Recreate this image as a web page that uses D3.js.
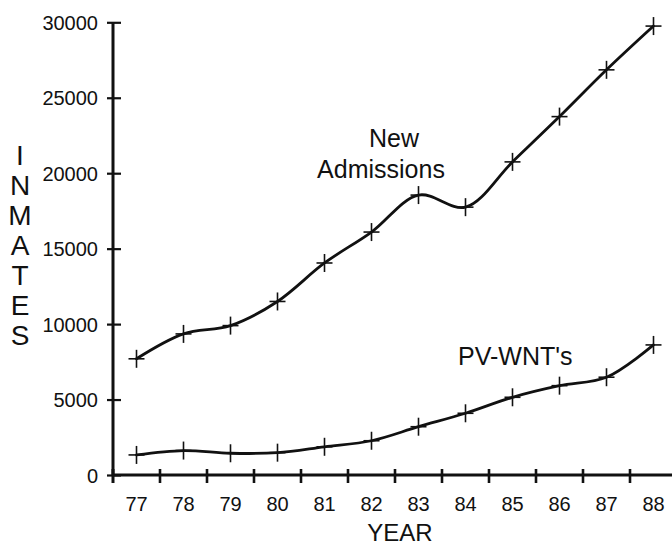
<!DOCTYPE html>
<html>
<head>
<meta charset="utf-8">
<script src="https://cdn.jsdelivr.net/npm/d3@7"></script>
<style>
  html, body { margin: 0; padding: 0; background: #fff; }
  svg { display: block; }
  text { font-family: "Liberation Sans", Arial, Helvetica, sans-serif; fill: #111; }
</style>
</head>
<body>
<svg id="chart" width="672" height="547"></svg>
<script>
const years = ["77","78","79","80","81","82","83","84","85","86","87","88"];
const newAdmissions = [7700, 9350, 9900, 11500, 14050, 16100, 18550, 17750, 20750, 23750, 26850, 29750];
const pvWnts = [1330, 1620, 1440, 1480, 1870, 2270, 3200, 4090, 5150, 5920, 6480, 8620];
const yTicks = [0, 5000, 10000, 15000, 20000, 25000, 30000];
const yTitle = ["I","N","M","A","T","E","S"];
const xTitle = "YEAR";
const labelNA = ["New", "Admissions"];
const labelPV = "PV-WNT's";

const svg = d3.select("#chart");
const x0 = 113, band = 47;
const x = d3.scaleBand().domain(years).range([x0, x0 + band * years.length]).paddingInner(0).paddingOuter(0);
const y = d3.scaleLinear().domain([0, 30000]).range([475, 22.3]);
const cx = d => x(d) + x.bandwidth() / 2;

const ink = "#111";

// Y axis
const yAxis = d3.axisLeft(y).tickValues(yTicks).tickSize(0).tickFormat(d3.format("d"));
const gy = svg.append("g").attr("transform", `translate(${x0},0)`).call(yAxis);
gy.select(".domain").remove();
gy.selectAll("text").attr("x", -15).attr("dy", "0.36em").style("font-size", "20px")
  .style("font-family", '"Liberation Sans", Arial, sans-serif').attr("fill", ink);
gy.selectAll(".tick").append("line").attr("x1", -6).attr("x2", 8).attr("stroke", ink).attr("stroke-width", 2.2);
svg.append("line").attr("x1", x0).attr("x2", x0).attr("y1", y(30000)).attr("y2", y(0) + 1)
  .attr("stroke", ink).attr("stroke-width", 3);

// X axis
svg.append("line").attr("x1", x0 - 1).attr("x2", 672).attr("y1", y(0)).attr("y2", y(0))
  .attr("stroke", ink).attr("stroke-width", 3);
const boundaries = years.slice(1);
svg.append("g").selectAll("line").data(boundaries).join("line")
  .attr("x1", d => x(d)).attr("x2", d => x(d))
  .attr("y1", y(0) - 6).attr("y2", y(0) + 8)
  .attr("stroke", ink).attr("stroke-width", 2.6);
svg.append("line").attr("x1", x0).attr("x2", x0).attr("y1", y(0) - 6).attr("y2", y(0) + 8)
  .attr("stroke", ink).attr("stroke-width", 3);
svg.append("g").selectAll("text").data(years).join("text")
  .attr("x", d => cx(d)).attr("y", 511).attr("text-anchor", "middle")
  .style("font-size", "20px").text(d => d);

// Titles
svg.append("text").attr("x", 400).attr("y", 541).attr("text-anchor", "middle")
  .style("font-size", "24px").text(xTitle);
svg.append("g").selectAll("text").data(yTitle).join("text")
  .attr("x", 20).attr("y", (d, i) => 165 + i * 30).attr("text-anchor", "middle")
  .style("font-size", "28px").text(d => d);

// Lines
const line = d3.line().x((d, i) => cx(years[i])).y(d => y(d)).curve(d3.curveCatmullRom.alpha(0.5));
[newAdmissions, pvWnts].forEach(series => {
  svg.append("path").datum(series).attr("d", line)
    .attr("fill", "none").attr("stroke", ink).attr("stroke-width", 2.8)
    .attr("stroke-linejoin", "round").attr("stroke-linecap", "round");
  const g = svg.append("g");
  g.selectAll("line.h").data(series).join("line").attr("class", "h")
    .attr("x1", (d, i) => cx(years[i]) - 8).attr("x2", (d, i) => cx(years[i]) + 8)
    .attr("y1", d => y(d)).attr("y2", d => y(d))
    .attr("stroke", ink).attr("stroke-width", 1.6);
  g.selectAll("line.v").data(series).join("line").attr("class", "v")
    .attr("x1", (d, i) => cx(years[i])).attr("x2", (d, i) => cx(years[i]))
    .attr("y1", d => y(d) - 9).attr("y2", d => y(d) + 9)
    .attr("stroke", ink).attr("stroke-width", 1.6);
});

// Annotations
svg.append("text").attr("x", 394).attr("y", 147).attr("text-anchor", "middle")
  .style("font-size", "25px").text(labelNA[0]);
svg.append("text").attr("x", 381).attr("y", 178).attr("text-anchor", "middle")
  .style("font-size", "25px").text(labelNA[1]);
svg.append("text").attr("x", 458).attr("y", 365).attr("text-anchor", "start")
  .style("font-size", "25px").text(labelPV);
</script>
</body>
</html>
